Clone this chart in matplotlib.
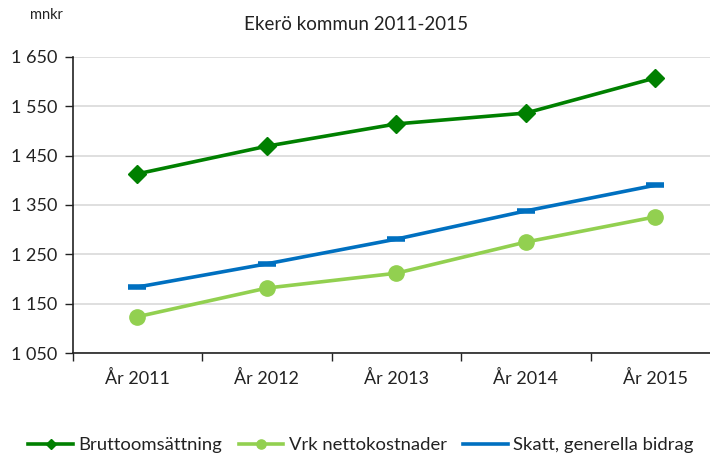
import numpy as np
import matplotlib.pyplot as plt
from matplotlib.ticker import FuncFormatter, FixedLocator

# data (mnkr)
years = ["År 2011", "År 2012", "År 2013", "År 2014", "År 2015"]
brutto = [1413, 1469, 1514, 1536, 1607]
vrk_netto = [1124, 1182, 1212, 1275, 1326]
skatt_bidrag = [1184, 1231, 1281, 1338, 1390]
y_ticks = [1050, 1150, 1250, 1350, 1450, 1550, 1650]

plt.rcParams['font.family'] = ['Lato', 'DejaVu Sans']

fig = plt.figure(figsize=(7.1, 4.55), dpi=100)
ax = fig.add_axes([72.7/710, 1-353.3/455, (720-72.7)/710, (353.3-56.7)/455])

x = np.arange(len(years))
ax.plot(x, brutto, color='#008000', lw=2.6, marker='D', ms=9, label='Bruttoomsättning', zorder=3)
ax.plot(x, vrk_netto, color='#92D050', lw=2.6, marker='o', ms=11, label='Vrk nettokostnader', zorder=3)
ax.plot(x, skatt_bidrag, color='#0070C0', lw=2.6, marker='_', ms=13, mew=4, label='Skatt, generella bidrag', zorder=3)

ax.set_xlim(-0.5, len(years) - 0.5)
ax.set_ylim(y_ticks[0], y_ticks[-1])
ax.set_yticks(y_ticks)
ax.yaxis.set_major_formatter(FuncFormatter(lambda v, p: '{:,}'.format(int(v)).replace(',', ' ')))
ax.set_xticks(x)
ax.set_xticklabels(years)
ax.xaxis.set_minor_locator(FixedLocator(np.arange(-0.5, len(years), 1.0)))
ax.tick_params(axis='x', which='major', length=0, pad=12, labelsize=13, colors='#222222')
ax.tick_params(axis='x', which='minor', length=6, width=1, color='#222222', direction='out')
ax.tick_params(axis='y', length=6, width=1, color='#222222', labelsize=13, pad=5, labelcolor='#222222')

ax.grid(axis='y', color='#D9D9D9', lw=1.2)
ax.set_axisbelow(True)
for s in ['top', 'right']:
    ax.spines[s].set_visible(False)
for s in ['left', 'bottom']:
    ax.spines[s].set_color('#222222')
    ax.spines[s].set_linewidth(1.2)

fig.text(356/710, 1-25/455, 'Ekerö kommun 2011-2015', ha='center', va='center', fontsize=13.5, color='#222222')
fig.text(30/710, 1-15/455, 'mnkr', ha='left', va='center', fontsize=10.5, color='#222222')

leg = fig.legend(loc='center', bbox_to_anchor=(361/710, 1-445/455), ncol=3, frameon=False,
                 fontsize=13.3, handlelength=2.4, columnspacing=0.9, handletextpad=0.3, markerscale=0.6)
leg.legend_handles[2].set_marker('')
for t in leg.get_texts():
    t.set_color('#222222')

fig.savefig('out.png', dpi=100)
